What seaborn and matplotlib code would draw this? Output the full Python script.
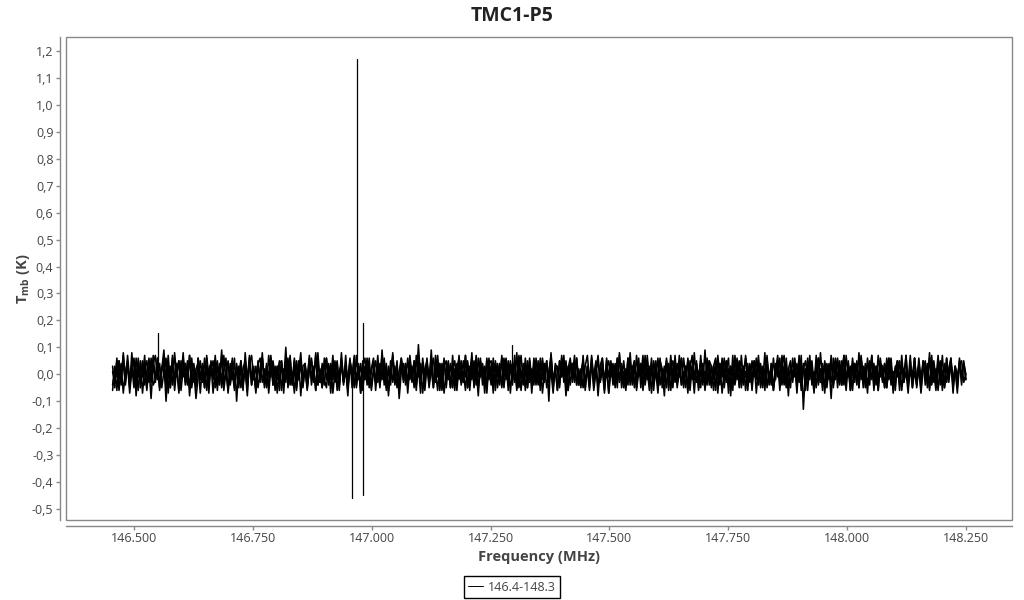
import numpy as np
import pandas as pd
import seaborn as sns
import matplotlib.pyplot as plt
from matplotlib.lines import Line2D
from matplotlib.patches import Rectangle
from matplotlib.ticker import FuncFormatter, MultipleLocator

# spectrum TMC1-P5, band 146.4-148.3 MHz, several overlaid scans
freq_start = 146.455
freq_end = 148.250

# baseline noise of each scan, estimated from the plot, in units of 0.01 K
scan_a = [
    3, -5, 6, -2, 4, -7, 1, 5, -4, 8, -3, 2, -6, 5, -1, 7, -5, 3, -9, 4,
    -2, 6, -4, 1, 5, -10, 3, -5, 7, -2, 4, -6, 2, 6, -3, 5, -8, 1, 4, -4,
    6, -2, 3, -5, 7, -1, 4, -7, 2, 5, -4, 9, -3, 1, -6, 4, -2, 6, -10, 3,
    -5, 2, 5, -3, 7, -4, 1, -6, 5, -2, 8, -5, 3, -1, 6, -4, 2, -7, 4, 5,
    -3, 10, -5, 2, -4, 6, -2, 5, -8, 3, 4, -5, 7, -1, 3, -6, 5, -3, 2, -4,
    6, -2, 4, -7, 1, 5, -4, 8, -3, 2, -6, 5, -1, 7, -5, 3, -4, 4, -2, 6,
    -4, 1, 5, -6, 3, -5, 9, -2, 4, -8, 2, 6, -3, 5, -9, 1, 4, -4, 6, -2,
    3, -5, 7, -1, 4, -7, 2, 5, -4, 9, -3, 1, -6, 4, -2, 6, -5, 3, -5, 2,
    5, -3, 7, -4, 1, -6, 5, -2, 8, -5, 3, -1, 6, -4, 2, -7, 4, 5, -3, 4,
    -5, 2, -4, 6, -2, 5, -7, 3, 4, -5, 7, -1, 3, -6, 5, -3, 2, -4, 6, -2,
    4, -7, 1, 5, -10, 8, -3, 2, -6, 5, -1, 7, -5, 3, -4, 4, -2, 6, -4, 1,
    5, -6, 3, -5, 7, -2, 4, -8, 2, 6, -3, 5, -7, 1, 4, -4, 6, -2, 3, -5,
    2, -4, 8, -3, 5, -6, 1, 4, -5, 7, -2, 3, -7, 5, -1, 6, -4, 2, -8, 5,
    -3, 7, -2, 4, -5, 1, 6, -4, 3, -7, 5, -2, 8, -3, 1, -5, 4, -6, 2, 5,
    -4, 3, -6, 7, -1, 4, -5, 2, 6, -8, 3, -2, 5, -4, 7, -3, 1, -6, 4, -2,
    5, -7, 2, 4, -3, 8, -5, 1, -4, 6, -2, 5, -6, 3, 7, -4, 2, -5, 6, -1,
    4, -3, 7, -13, 2, -6, 4, 1, -7, 5, -3, 8, -2, 4, -5, 3, -9, 6, -2, 5,
    -4, 2, 7, -3, 5, -6, 1, 4, -4, 8, -2, 3, -5, 6, -1, 7, -4, 2, -6, 4,
    3, -5, 6, -2, 4, -7, 2, 5, -4, 7, -3, 1, -7, 5, -2, 6, -5, 3, -7, 2,
    5, -3, 8, -4, 1, -6, 5, -2, 7, -5, 3, -1, 6, -4, 2, -7, 4, 5, -3, 0,
]
scan_b = [
    -4, 2, -6, 5, -1, 7, -3, 4, -5, 2, 6, -8, 3, -2, 5, -4, 1, 6, -3, 4,
    7, -2, 4, -5, 1, 6, -7, 3, -4, 8, -1, 5, -6, 2, 4, -3, 7, -5, 1, -9,
    -1, 5, -3, 6, -6, 2, 4, -2, 7, -4, 3, -5, 1, 6, -7, 2, 5, -3, 4, -5,
    3, -6, 8, -2, 5, -4, 1, -7, 4, 6, -3, 2, -5, 7, -1, 4, -6, 3, -2, 5,
    -7, 4, -2, 6, -3, 5, -5, 1, 8, -4, 2, -6, 3, 5, -2, 7, -4, 1, -5, 6,
    -2, 3, -7, 5, -1, 4, -4, 6, -3, 2, -8, 5, 1, -5, 7, -2, 4, -6, 3, -1,
    6, -5, 2, -3, 7, -4, 1, 5, -6, 3, -2, 8, -4, 2, -5, 6, -1, 4, -7, 3,
    -3, 5, -4, 11, -2, 4, -6, 3, -1, 6, -5, 2, 7, -3, 4, -7, 1, 5, -4, 2,
    -6, 4, -2, 5, -3, 7, -5, 1, 6, -4, 2, -8, 5, -1, 3, -5, 6, -2, 4, -6,
    3, -4, 7, -1, 5, -6, 2, 4, -3, 8, -5, 1, -4, 6, -2, 5, -7, 3, 2, -4,
    6, -2, 4, -5, 1, 7, -3, 3, -6, 5, -1, 4, -8, 2, 6, -3, 5, -4, 1, -5,
    7, -3, 2, -6, 4, -1, 5, -5, 3, 6, -4, 2, -7, 5, -2, 4, -3, 8, -5, 1,
    -4, 6, -2, 3, -5, 7, -1, 4, -6, 2, 5, -3, 6, -4, 1, -7, 5, -2, 3, -5,
    4, -6, 2, 5, -3, 7, -4, 1, -5, 6, -2, 3, -7, 4, -1, 5, -4, 9, -3, 2,
    -5, 3, 6, -2, 4, -7, 1, 5, -4, 3, -6, 7, -2, 4, -5, 1, 6, -3, 2, -4,
    5, -1, 7, -5, 2, -3, 6, -4, 4, -6, 1, 5, -3, 7, -2, 3, -8, 4, -1, 6,
    -3, 4, -6, 2, 5, -2, 7, -4, 1, -5, 6, -3, 3, -7, 4, -1, 5, -5, 2, 6,
    -2, 5, -4, 7, -1, 3, -6, 4, 2, -5, 6, -3, 1, -7, 5, -2, 4, -4, 7, -1,
    3, -5, 2, 6, -4, 1, -6, 5, -2, 4, -3, 7, -5, 2, -1, 6, -4, 3, -6, 5,
    -1, 4, -5, 7, -3, 2, -6, 4, 1, -4, 6, -2, 5, -7, 3, -3, 5, -1, 4, -2,
]
scan_c = [
    1, -3, 5, -6, 2, 4, -4, 7, -2, 3, -5, 6, -1, 4, -7, 2, 5, -3, 6, -4,
    -2, 6, -5, 3, 1, -4, 7, -3, 4, -6, 2, 5, -2, 8, -4, 1, -5, 6, -3, 2,
    4, -7, 3, -1, 6, -4, 2, 5, -5, 3, -2, 7, -6, 1, 4, -3, 6, -5, 2, -1,
    5, -3, 2, -6, 4, 7, -2, 3, -5, 1, 6, -4, 4, -7, 2, 5, -1, 3, -6, 4,
    -3, 5, -1, 7, -4, 2, -6, 3, 5, -2, 4, -5, 1, 6, -3, 8, -4, 2, -5, 3,
    6, -4, 3, -2, 5, -6, 1, 4, -3, 7, -5, 2, -1, 6, -4, 3, -7, 5, -2, 4,
    -5, 2, 6, -3, 4, -1, 7, -4, 2, -6, 5, -3, 3, -5, 1, 6, -2, 4, -4, 7,
    -1, 3, -6, 5, -2, 4, -4, 6, -3, 2, -5, 7, -1, 4, -6, 3, 5, -2, 4, -5,
    2, -6, 4, 1, -3, 7, -5, 3, -2, 5, -4, 6, -1, 3, -7, 5, 2, -4, 6, -3,
    4, -2, 6, -5, 3, -1, 5, -4, 7, -3, 2, -6, 4, 1, -5, 6, -2, 3, -4, 5,
    -4, 6, -2, 5, -3, 1, -7, 4, 2, -5, 6, -3, 3, -6, 5, -1, 7, -4, 2, -3,
    5, -5, 3, -2, 6, -4, 1, 7, -3, 4, -6, 2, 5, -1, 3, -5, 6, -3, 4, -2,
    -6, 3, 5, -4, 2, -1, 6, -5, 4, -3, 7, -2, 1, -6, 4, -4, 5, 2, -3, 6,
    -2, 4, -5, 7, -3, 2, -4, 6, -1, 5, -6, 3, -2, 4, -5, 7, -3, 1, -4, 5,
    3, -6, 2, 4, -4, 6, -2, 5, -7, 3, 1, -3, 6, -5, 2, -4, 7, -1, 3, -6,
    4, -2, 5, -4, 3, -6, 7, -3, 2, -5, 4, -1, 6, -4, 3, -5, 2, 5, -3, 4,
    -5, 7, -1, 3, -6, 4, -2, 5, -4, 1, 6, -3, 4, -5, 2, -2, 7, -4, 3, -1,
    5, -4, 2, -6, 4, -3, 6, -1, 3, -5, 7, -2, 4, -4, 1, 5, -6, 3, -2, 6,
    -3, 4, -5, 2, 6, -4, 3, -1, 5, -6, 2, 4, -3, 7, -5, 1, -4, 6, -2, 3,
    4, -5, 6, -2, 3, -4, 1, 5, -6, 4, -3, 2, 6, -5, 3, -1, 4, -4, 5, -2,
]
scan_d = [
    -6, 3, -1, 5, -4, 8, -2, 4, -7, 2, 5, -3, 6, -5, 1, 4, -6, 3, -2, 7,
    -3, 4, -6, 2, 9, -4, 1, -5, 6, -2, 3, -7, 5, -1, 4, -4, 7, -3, 2, -5,
    6, -2, 4, -5, 3, -7, 5, -1, 2, -6, 4, -3, 7, -2, 5, -4, 1, -6, 3, -3,
    5, -4, 2, -8, 6, -1, 3, -5, 4, -3, 6, -2, 1, -5, 7, -4, 3, -2, 5, -6,
    2, -3, 6, -4, 1, -7, 5, -2, 4, -5, 3, -1, 6, -4, 2, -6, 8, -3, 4, -2,
    -5, 4, -2, 7, -3, 1, -6, 5, -4, 3, -2, 6, -5, 2, -1, 4, -7, 3, 6, -4,
    3, -6, 1, 5, -3, 4, -2, 6, -5, 2, -4, 7, -1, 3, -6, 5, -3, 2, -4, 6,
    -2, 5, -4, 3, -7, 6, -1, 4, -5, 2, 6, -3, 4, -6, 1, 5, -2, 3, -5, 7,
    -4, 2, 6, -3, 5, -1, 4, -6, 3, -2, 7, -5, 1, 4, -4, 6, -2, 3, -7, 5,
    -1, 4, -5, 2, 6, -4, 3, -2, 5, -6, 1, 7, -3, 4, -5, 2, -4, 6, -2, 3,
    -6, 5, -3, 4, -2, 6, -5, 1, 3, -4, 7, -1, 5, -6, 2, 4, -3, 6, -4, 2,
    -5, 3, 7, -2, 4, -6, 1, 5, -3, 2, -7, 6, -1, 4, -4, 3, -5, 7, -2, 5,
    -3, 6, -4, 2, 5, -5, 3, -1, 7, -4, 2, -6, 4, -2, 5, -3, 6, -5, 1, 4,
    -6, 2, 5, -3, 4, -1, 6, -5, 3, -4, 2, 7, -2, 5, -6, 1, 4, -3, 6, -4,
    3, -2, 5, -7, 4, -1, 6, -3, 2, -5, 7, -4, 1, 5, -2, 3, -6, 4, -3, 5,
    -1, 6, -4, 3, -5, 2, 5, -3, 4, -6, 1, 7, -2, 3, -4, 6, -5, 2, -1, 4,
    -7, 5, -2, 4, -3, 6, -1, 3, -5, 7, -4, 2, -6, 5, -2, 4, -3, 1, 6, -5,
    3, -4, 7, -1, 2, -6, 4, -3, 5, -2, 6, -5, 1, 4, -4, 7, -2, 3, -6, 5,
    -2, 4, -5, 6, -3, 1, -4, 5, -6, 3, -1, 7, -4, 2, -5, 6, -3, 4, -2, 5,
    -4, 3, -6, 2, 5, -2, 7, -4, 1, -5, 6, -3, 4, -2, 3, -5, 6, -1, 4, 0,
]

# narrow lines sticking out of the noise: frequency (MHz), bottom and top (K)
line_freq = [146.550, 146.959, 146.969, 146.982, 147.295]
line_low = [0.0, -0.46, 0.02, -0.45, 0.0]
line_high = [0.155, 0.0, 1.17, 0.19, 0.11]

frames = []
for name, vals in [("a", scan_a), ("b", scan_b), ("c", scan_c), ("d", scan_d)]:
    f = np.linspace(freq_start, freq_end, len(vals))
    frames.append(pd.DataFrame({"freq": f, "temp": np.array(vals) / 100.0, "scan": name}))
noise_df = pd.concat(frames, ignore_index=True)

lines_df = pd.DataFrame({
    "freq": np.repeat(line_freq, 2),
    "temp": np.ravel(np.column_stack([line_low, line_high])),
    "scan": np.repeat(np.arange(len(line_freq)), 2),
})

sns.set_style("white")
plt.rcParams["font.family"] = ["Open Sans", "DejaVu Sans"]
plt.rcParams["mathtext.fontset"] = "custom"
plt.rcParams["mathtext.rm"] = "Open Sans"
plt.rcParams["mathtext.bf"] = "Open Sans:bold"

fig = plt.figure(figsize=(10.24, 6), dpi=100)
ax = fig.add_axes([66 / 1024, 80 / 600, 946 / 1024, 483 / 600])

sns.lineplot(data=noise_df, x="freq", y="temp", units="scan", estimator=None, sort=True,
             color="black", lw=1.15, ax=ax, legend=False)
sns.lineplot(data=lines_df, x="freq", y="temp", units="scan", estimator=None, sort=False,
             color="black", lw=0.9, ax=ax, legend=False)

ax.set_xlim(146.357, 148.347)
ax.set_ylim(-0.541, 1.252)
ax.xaxis.set_major_locator(MultipleLocator(0.25))
ax.yaxis.set_major_locator(MultipleLocator(0.1))
ax.xaxis.set_major_formatter(FuncFormatter(lambda v, p: f"{v:.3f}"))
ax.yaxis.set_major_formatter(FuncFormatter(lambda v, p: f"{v:.1f}".replace(".", ",").replace("-0,0", "0,0")))

grey = "#888888"
for s in ["top", "right"]:
    ax.spines[s].set_visible(False)
for s in ["left", "bottom"]:
    ax.spines[s].set_position(("outward", 4))
    ax.spines[s].set_color(grey)
    ax.spines[s].set_linewidth(1)
ax.add_patch(Rectangle((0, 0), 1, 1, transform=ax.transAxes, fill=False,
                       edgecolor=grey, lw=1, clip_on=False, zorder=5))
ax.tick_params(axis="both", direction="out", length=3, width=1, color=grey, pad=2,
               labelsize=9, labelcolor="#444444", left=True, bottom=True)

fig.suptitle("TMC1-P5", x=0.5, y=0.99, fontsize=14, fontweight="bold", color="#222222")
ax.set_xlabel("Frequency (MHz)", fontsize=10.5, fontweight="bold", color="#444444", labelpad=3)
ax.set_ylabel(r"$\mathbf{T_{mb}}$ (K)", fontsize=10.5, fontweight="bold", color="#444444", labelpad=0)

handle = Line2D([], [], color="black", lw=0.7)
leg = fig.legend([handle], ["146.4-148.3"], loc="upper center", bbox_to_anchor=(0.5, 0.05),
                 frameon=True, fancybox=False, edgecolor="black", framealpha=1, fontsize=9,
                 handlelength=1.2, handletextpad=0.4, borderpad=0.35)
leg.get_frame().set_linewidth(1)
for t in leg.get_texts():
    t.set_color("#444444")

fig.savefig("out.png", dpi=100)
